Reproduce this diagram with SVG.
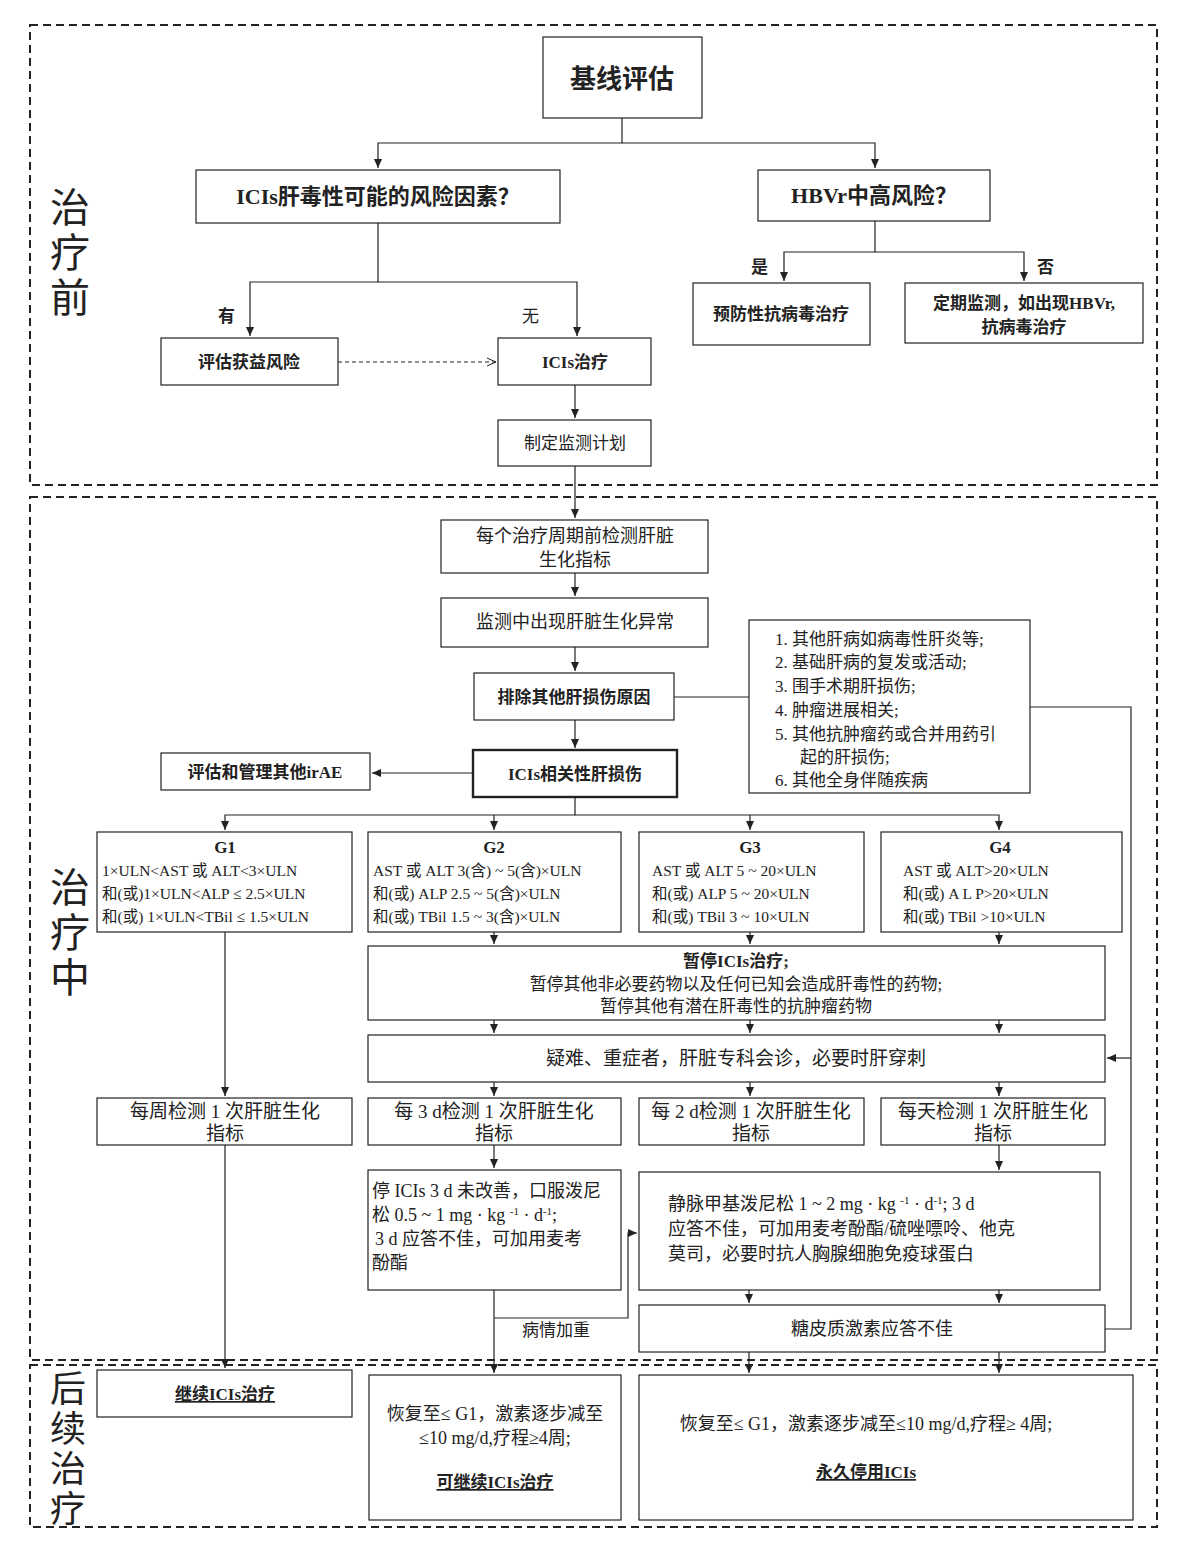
<svg xmlns="http://www.w3.org/2000/svg" width="1185" height="1544" viewBox="0 0 1185 1544">
<defs>
<marker id="a" markerWidth="10" markerHeight="10" refX="9" refY="5" orient="auto" markerUnits="userSpaceOnUse"><path d="M0,1 L9,5 L0,9 Z" fill="#222"/></marker>
<marker id="o" markerWidth="10" markerHeight="10" refX="9" refY="5" orient="auto" markerUnits="userSpaceOnUse"><path d="M0,1 L9,5 L0,9" fill="none" stroke="#222"/></marker>
</defs>
<style>
rect{fill:#fff;stroke:#222;stroke-width:1.2}
.sec{fill:none;stroke:#222;stroke-width:2;stroke-dasharray:8,5}
text{font-family:"Liberation Serif","Noto Sans CJK SC",serif;fill:#222;font-size:17px}
.c{text-anchor:middle}
.b{font-weight:bold}
.big{font-size:40px}
.g{font-size:15.5px}
.m{font-size:18px}
#con path{fill:none;stroke:#222;stroke-width:1.2}
</style>
<rect width="1185" height="1544" style="fill:#fff;stroke:none"/>
<rect class="sec" x="30" y="25" width="1127" height="460"/>
<rect class="sec" x="30" y="497" width="1127" height="863"/>
<rect class="sec" x="30" y="1365" width="1127" height="162"/>
<g id="labels">
<text class="big c" x="70" y="222">治</text><text class="big c" x="70" y="267">疗</text><text class="big c" x="70" y="312">前</text>
<text class="big c" x="70" y="902">治</text><text class="big c" x="70" y="947">疗</text><text class="big c" x="70" y="992">中</text>
<text class="c" style="font-size:36px" x="68" y="1402">后</text><text class="c" style="font-size:36px" x="68" y="1442">续</text><text class="c" style="font-size:36px" x="68" y="1482">治</text><text class="c" style="font-size:36px" x="68" y="1522">疗</text>
</g>
<g id="con">
<path d="M622,118V143H378V168" marker-end="url(#a)"/>
<path d="M622,143H875V168" marker-end="url(#a)"/>
<path d="M378,223V282H250V336" marker-end="url(#a)"/>
<path d="M378,282H577V336" marker-end="url(#a)"/>
<path d="M338,362H496" stroke-dasharray="4,3" marker-end="url(#o)"/>
<path d="M575,385V418" marker-end="url(#a)"/>
<path d="M875,221V252H784V281" marker-end="url(#a)"/>
<path d="M875,252H1024V281" marker-end="url(#a)"/>
<path d="M575,466V518" marker-end="url(#a)"/>
<path d="M575,573V596" marker-end="url(#a)"/>
<path d="M575,647V671" marker-end="url(#a)"/>
<path d="M575,720V748" marker-end="url(#a)"/>
<path d="M674,697H749"/>
<path d="M473,773H372" marker-end="url(#a)"/>
<path d="M575,797V815H225V830" marker-end="url(#a)"/>
<path d="M575,815H999V830" marker-end="url(#a)"/>
<path d="M494,815V830" marker-end="url(#a)"/>
<path d="M750,815V830" marker-end="url(#a)"/>
<path d="M494,932V944" marker-end="url(#a)"/><path d="M750,932V944" marker-end="url(#a)"/><path d="M999,932V944" marker-end="url(#a)"/>
<path d="M494,1020V1033" marker-end="url(#a)"/><path d="M750,1020V1033" marker-end="url(#a)"/><path d="M999,1020V1033" marker-end="url(#a)"/>
<path d="M494,1082V1096" marker-end="url(#a)"/><path d="M750,1082V1096" marker-end="url(#a)"/><path d="M999,1082V1096" marker-end="url(#a)"/>
<path d="M225,932V1096" marker-end="url(#a)"/>
<path d="M494,1145V1168" marker-end="url(#a)"/>
<path d="M999,1145V1170" marker-end="url(#a)"/>
<path d="M749,1290V1303" marker-end="url(#a)"/><path d="M999,1290V1303" marker-end="url(#a)"/>
<path d="M494,1290V1373" marker-end="url(#a)"/>
<path d="M494,1318H628V1233H637" marker-end="url(#a)"/>
<path d="M749,1352V1373" marker-end="url(#a)"/><path d="M999,1352V1373" marker-end="url(#a)"/>
<path d="M225,1145V1368" marker-end="url(#a)"/>
<path d="M1030,707H1131V1329H1105"/>
<path d="M1131,1058H1107" marker-end="url(#a)"/>
</g>
<g id="n1"><rect x="543" y="37" width="159" height="81"/><text class="c b" style="font-size:26px" x="622" y="88">基线评估</text></g>
<g id="n2"><rect x="196" y="170" width="364" height="53"/><text class="c b" style="font-size:22px" x="378" y="204">ICIs肝毒性可能的风险因素？</text></g>
<g id="n3"><rect x="758" y="170" width="232" height="51"/><text class="c b" style="font-size:22px" x="874" y="203">HBVr中高风险？</text></g>
<text class="b" x="218" y="322">有</text><text x="522" y="322">无</text>
<text class="b" x="751" y="273">是</text><text class="b" x="1037" y="273">否</text>
<g id="n4"><rect x="161" y="338" width="177" height="47"/><text class="c b" x="249" y="368">评估获益风险</text></g>
<g id="n5"><rect x="498" y="338" width="153" height="47"/><text class="c b" x="575" y="368">ICIs治疗</text></g>
<g id="n6"><rect x="498" y="420" width="153" height="46"/><text class="c" x="575" y="449">制定监测计划</text></g>
<g id="n7"><rect x="693" y="283" width="177" height="62"/><text class="c b" x="781" y="320">预防性抗病毒治疗</text></g>
<g id="n8"><rect x="905" y="283" width="238" height="60"/><text class="c b" x="1024" y="309">定期监测，如出现HBVr,</text><text class="c b" x="1024" y="333">抗病毒治疗</text></g>
<g id="n9"><rect x="441" y="520" width="267" height="53"/><text class="c m" x="575" y="542">每个治疗周期前检测肝脏</text><text class="c m" x="575" y="566">生化指标</text></g>
<g id="n10"><rect x="441" y="598" width="267" height="49"/><text class="c m" x="575" y="628">监测中出现肝脏生化异常</text></g>
<g id="n11"><rect x="474" y="673" width="200" height="47"/><text class="c b" x="574" y="703">排除其他肝损伤原因</text></g>
<g id="n12"><rect x="749" y="620" width="281" height="173"/>
<text x="775" y="645">1. 其他肝病如病毒性肝炎等;</text>
<text x="775" y="668">2. 基础肝病的复发或活动;</text>
<text x="775" y="692">3. 围手术期肝损伤;</text>
<text x="775" y="716">4. 肿瘤进展相关;</text>
<text x="775" y="740">5. 其他抗肿瘤药或合并用药引</text>
<text x="800" y="763">起的肝损伤;</text>
<text x="775" y="786">6. 其他全身伴随疾病</text></g>
<g id="n13"><rect x="473" y="750" width="204" height="47" style="stroke-width:2.4"/><text class="c b" x="575" y="780">ICIs相关性肝损伤</text></g>
<g id="n14"><rect x="161" y="753" width="209" height="37"/><text class="c b" x="265" y="778">评估和管理其他irAE</text></g>
<g id="g1"><rect x="97" y="832" width="255" height="100"/><text class="c b" x="225" y="853">G1</text>
<text class="g" x="102" y="876">1×ULN&lt;AST 或 ALT&lt;3×ULN</text><text class="g" x="102" y="899">和(或)1×ULN&lt;ALP ≤ 2.5×ULN</text><text class="g" x="102" y="922">和(或) 1×ULN&lt;TBil ≤ 1.5×ULN</text></g>
<g id="g2"><rect x="368" y="832" width="253" height="100"/><text class="c b" x="494" y="853">G2</text>
<text class="g" x="373" y="876">AST 或 ALT 3(含) ~ 5(含)×ULN</text><text class="g" x="373" y="899">和(或) ALP 2.5 ~ 5(含)×ULN</text><text class="g" x="373" y="922">和(或) TBil 1.5 ~ 3(含)×ULN</text></g>
<g id="g3"><rect x="639" y="832" width="225" height="100"/><text class="c b" x="750" y="853">G3</text>
<text class="g" x="652" y="876">AST 或 ALT 5 ~ 20×ULN</text><text class="g" x="652" y="899">和(或) ALP 5 ~ 20×ULN</text><text class="g" x="652" y="922">和(或) TBil 3 ~ 10×ULN</text></g>
<g id="g4"><rect x="881" y="832" width="241" height="100"/><text class="c b" x="1000" y="853">G4</text>
<text class="g" x="903" y="876">AST 或 ALT&gt;20×ULN</text><text class="g" x="903" y="899">和(或) A L P&gt;20×ULN</text><text class="g" x="903" y="922">和(或) TBil &gt;10×ULN</text></g>
<g id="n15"><rect x="368" y="946" width="737" height="74"/><text class="c b" x="736" y="967">暂停ICIs治疗;</text><text class="c" x="736" y="990">暂停其他非必要药物以及任何已知会造成肝毒性的药物;</text><text class="c" x="736" y="1012">暂停其他有潜在肝毒性的抗肿瘤药物</text></g>
<g id="n16"><rect x="368" y="1035" width="737" height="47"/><text class="c" style="font-size:19px" x="736" y="1065">疑难、重症者，肝脏专科会诊，必要时肝穿刺</text></g>
<g id="n17"><rect x="97" y="1098" width="255" height="47"/><text class="c" style="font-size:19px" x="225" y="1118">每周检测 1 次肝脏生化</text><text class="c" style="font-size:19px" x="225" y="1140">指标</text></g>
<g id="n18"><rect x="368" y="1098" width="253" height="47"/><text class="c" style="font-size:19px" x="494" y="1118">每 3 d检测 1 次肝脏生化</text><text class="c" style="font-size:19px" x="494" y="1140">指标</text></g>
<g id="n19"><rect x="639" y="1098" width="225" height="47"/><text class="c" style="font-size:19px" x="751" y="1118">每 2 d检测 1 次肝脏生化</text><text class="c" style="font-size:19px" x="751" y="1140">指标</text></g>
<g id="n20"><rect x="881" y="1098" width="224" height="47"/><text class="c" style="font-size:19px" x="993" y="1118">每天检测 1 次肝脏生化</text><text class="c" style="font-size:19px" x="993" y="1140">指标</text></g>
<g id="n21"><rect x="368" y="1170" width="253" height="120"/>
<text class="m" x="372" y="1197">停 ICIs 3  d 未改善，口服泼尼</text>
<text class="m" x="372" y="1221">松 0.5 ~ 1 mg · kg <tspan dy="-6" font-size="11">-1</tspan><tspan dy="6"> · d</tspan><tspan dy="-6" font-size="11">-1</tspan><tspan dy="6">;</tspan></text>
<text class="m" x="375" y="1245">3 d 应答不佳，可加用麦考</text>
<text class="m" x="372" y="1269">酚酯</text></g>
<g id="n22"><rect x="639" y="1172" width="461" height="118"/>
<text class="m" x="668" y="1210">静脉甲基泼尼松 1 ~ 2 mg · kg <tspan dy="-6" font-size="11">-1</tspan><tspan dy="6"> · d</tspan><tspan dy="-6" font-size="11">-1</tspan><tspan dy="6">; 3 d</tspan></text>
<text class="m" x="668" y="1235">应答不佳，可加用麦考酚酯/硫唑嘌呤、他克</text>
<text class="m" x="668" y="1260">莫司，必要时抗人胸腺细胞免疫球蛋白</text></g>
<text x="522" y="1336">病情加重</text>
<g id="n23"><rect x="639" y="1305" width="466" height="47"/><text class="c m" x="872" y="1335">糖皮质激素应答不佳</text></g>
<g id="n24"><rect x="97" y="1370" width="255" height="47"/><text class="c b" x="225" y="1400" text-decoration="underline">继续ICIs治疗</text></g>
<g id="n25"><rect x="369" y="1375" width="252" height="145"/><text class="c m" x="495" y="1420">恢复至≤ G1，激素逐步减至</text><text class="c m" x="495" y="1444">≤10 mg/d,疗程≥4周;</text><text class="c b" x="495" y="1488" text-decoration="underline">可继续ICIs治疗</text></g>
<g id="n26"><rect x="639" y="1375" width="494" height="145"/><text class="c m" x="866" y="1430">恢复至≤ G1，激素逐步减至≤10 mg/d,疗程≥ 4周;</text><text class="c b" x="866" y="1478" text-decoration="underline">永久停用ICIs</text></g>
</svg>
